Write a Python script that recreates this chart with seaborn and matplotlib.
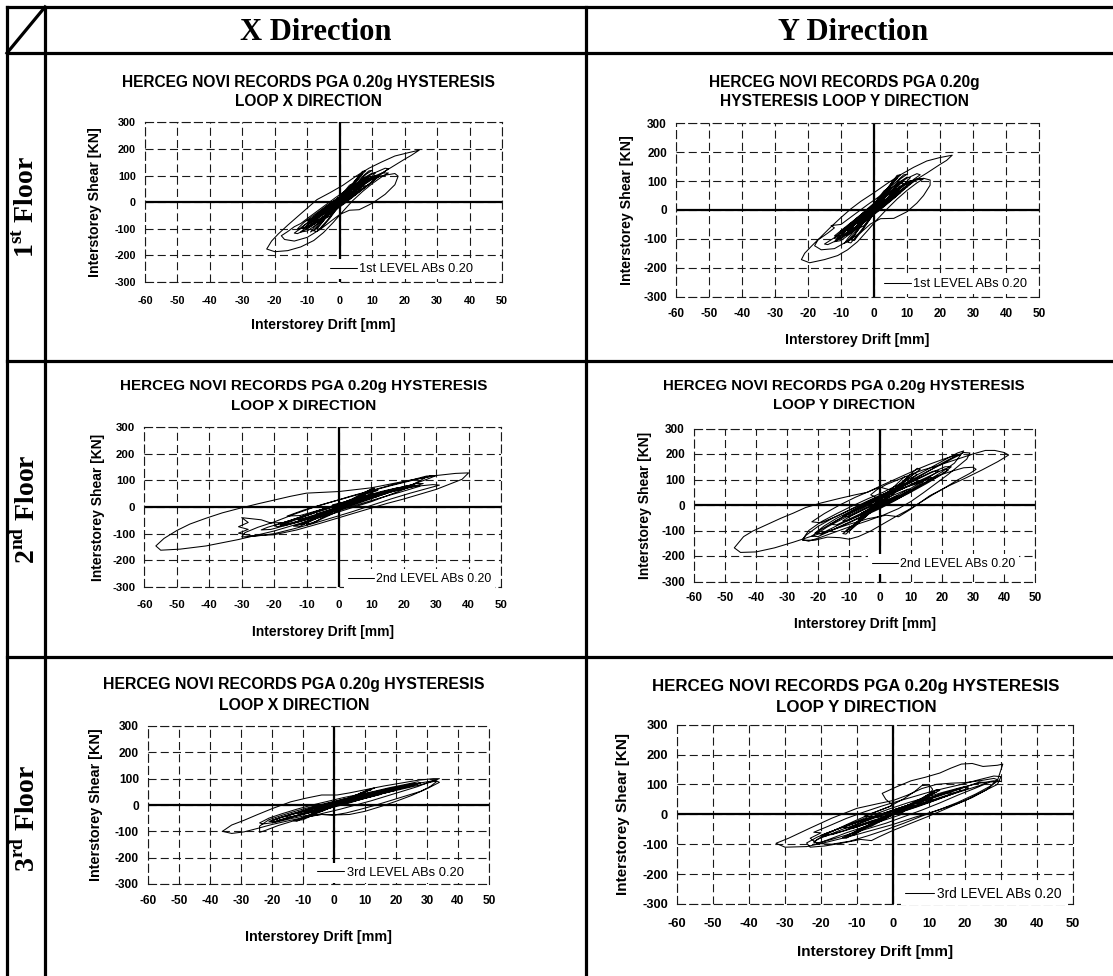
import matplotlib
matplotlib.use("Agg")
import matplotlib.pyplot as plt
from matplotlib.lines import Line2D
import seaborn as sns
import pandas as pd

# ---------------------------------------------------------------- text
COLUMN_HEADERS = ["X Direction", "Y Direction"]
FLOOR_LABELS = [r"$\mathbf{1}^{\mathbf{st}}$ Floor",
                r"$\mathbf{2}^{\mathbf{nd}}$ Floor",
                r"$\mathbf{3}^{\mathbf{rd}}$ Floor"]
TITLES = [
    ("HERCEG NOVI RECORDS PGA 0.20g HYSTERESIS", "LOOP X DIRECTION"),
    ("HERCEG NOVI RECORDS PGA 0.20g", "HYSTERESIS LOOP Y DIRECTION"),
    ("HERCEG NOVI RECORDS PGA 0.20g HYSTERESIS", "LOOP X DIRECTION"),
    ("HERCEG NOVI RECORDS PGA 0.20g HYSTERESIS", "LOOP Y DIRECTION"),
    ("HERCEG NOVI RECORDS PGA 0.20g HYSTERESIS", "LOOP X DIRECTION"),
    ("HERCEG NOVI RECORDS PGA 0.20g HYSTERESIS", "LOOP Y DIRECTION"),
]
SERIES_LABELS = ["1st LEVEL ABs 0.20", "1st LEVEL ABs 0.20",
                 "2nd LEVEL ABs 0.20", "2nd LEVEL ABs 0.20",
                 "3rd LEVEL ABs 0.20", "3rd LEVEL ABs 0.20"]
X_LABEL = "Interstorey Drift [mm]"
Y_LABEL = "Interstorey Shear [KN]"
X_TICKS = [-60, -50, -40, -30, -20, -10, 0, 10, 20, 30, 40, 50]
Y_TICKS = [-300, -200, -100, 0, 100, 200, 300]

# ------------------------------------------- hysteresis traces (drift mm, shear kN)
LOOP_1ST_X = [
    (0, 0), (2, 16), (4, 36), (3, 34), (0, 10), (-3, -20), (-5, -44), (-4, -42), (-1, -16), (2, 12),
    (5, 46), (7, 68), (6, 66), (3, 40), (-1, 4), (-4, -28), (-7, -60), (-9, -84), (-8, -82), (-5, -56),
    (-1, -20), (3, 16), (6, 48), (9, 86), (11, 110), (10, 110), (7, 88), (3, 50), (-1, 12), (-5, -28),
    (-9, -68), (-12, -98), (-14, -116), (-13, -118), (-10, -100), (-6, -68), (-2, -32), (2, 4), (6, 40), (10, 78),
    (13, 108), (15, 126), (14, 128), (11, 112), (7, 86), (3, 54), (-1, 20), (-5, -16), (-9, -52), (-12, -80),
    (-14, -92), (-16, -110), (-18, -126), (-17, -140), (-14, -146), (-10, -132), (-6, -102), (-3, -74), (0, -46), (3, -30),
    (6, -28), (10, -4), (14, 30), (17, 66), (18, 98), (17, 108), (13, 100), (9, 82), (5, 58), (1, 28),
    (-3, -4), (-7, -40), (-11, -76), (-13, -100), (-11, -98), (-7, -72), (-3, -40), (1, -6), (5, 30), (9, 68),
    (12, 98), (11, 100), (8, 80), (4, 50), (0, 16), (-4, -20), (-8, -56), (-10, -70), (-8, -66), (-4, -36),
    (0, -2), (4, 36), (8, 70), (12, 102), (16, 132), (20, 162), (22, 176), (24.5, 196), (21, 186), (17, 174),
    (13, 152), (9, 128), (5, 98), (1, 64), (-3, 36), (-7, 10), (-10, -22), (-13, -54), (-16, -86), (-19, -120),
    (-21, -146), (-22.5, -176), (-20, -186), (-16, -182), (-12, -168), (-8, -144), (-5, -114), (-2, -76), (1, -34), (4, 6),
    (7, 40), (10, 70), (13, 96), (15, 110), (13, 110), (9, 90), (5, 62), (1, 30), (-3, -6), (-7, -44),
    (-10, -78), (-12, -96), (-10, -94), (-6, -62), (-2, -26), (2, 10), (6, 44), (8, 62), (6, 58), (2, 26),
    (-2, -10), (-5, -40), (-3, -34), (0, -4), (2, 14),
    (5, 44), (8, 74), (10, 96), (9, 96), (6, 70), (2, 34), (-2, -4), (-6, -44), (-9, -76), (-11, -96),
    (-10, -98), (-7, -72), (-3, -36), (1, 2), (4, 36), (7, 66), (9, 90), (8, 92), (5, 62), (1, 24),
    (-3, -14), (-7, -52), (-10, -86), (-9, -90), (-5, -56), (-1, -16), (3, 22), (6, 56), (8, 80), (7, 80),
    (4, 50), (0, 12), (-4, -28), (-8, -66), (-11, -100), (-12, -112), (-10, -108), (-6, -74), (-2, -36), (2, 0),
    (6, 38), (10, 76), (12, 96), (11, 98), (7, 64), (3, 28), (-1, -8), (-5, -46), (-8, -74), (-6, -64),
    (-2, -26), (1, 6), (4, 40), (7, 72), (6, 70), (3, 38), (-1, 0), (-4, -30), (-2, -20), (0, 0),
    (3, 50), (6, 95), (8, 118), (7, 116), (4, 70), (1, 30), (-2, -20), (-5, -70), (-7, -100), (-6, -102),
    (-3, -60), (0, -10), (3, 40), (5, 80), (7, 106), (6, 100), (3, 56), (0, 10), (-3, -40), (-6, -84),
    (-8, -108), (-7, -110), (-4, -70), (-1, -26), (2, 24), (5, 66), (8, 104), (10, 120), (9, 118), (5, 76),
    (2, 36), (-2, -10), (-5, -56), (-8, -96), (-9, -112), (-8, -104), (-4, -50), (-1, -4), (2, 40), (4, 70),
    (3, 64), (0, 20), (-3, -30), (-5, -64), (-3, -52), (0, -6), (3, 30), (1, 10),
]

LOOP_1ST_Y = [
    (0, 0), (2, 18), (4, 38), (3, 36), (0, 8), (-3, -24), (-5, -46), (-4, -44), (-1, -14), (2, 16),
    (5, 50), (7, 72), (6, 70), (3, 42), (-1, 2), (-4, -32), (-7, -64), (-9, -88), (-8, -86), (-5, -58),
    (-1, -22), (3, 18), (6, 50), (9, 88), (11, 112), (10, 114), (7, 92), (3, 52), (-1, 14), (-5, -26),
    (-9, -66), (-12, -96), (-15, -118), (-14, -120), (-11, -104), (-7, -72), (-3, -36), (1, 2), (5, 38), (9, 76),
    (12, 106), (14, 122), (13, 126), (10, 110), (6, 82), (2, 50), (-2, 18), (-6, -16), (-10, -50), (-13, -54),
    (-12, -62), (-14, -80), (-17, -104), (-18, -124), (-16, -138), (-12, -134), (-8, -108), (-4, -78), (-1, -48), (2, -30),
    (6, -29), (10, -6), (13, 24), (15, 50), (17, 86), (17, 104), (15, 110), (11, 98), (7, 74), (3, 44),
    (-1, 10), (-5, -26), (-9, -62), (-12, -90), (-10, -90), (-6, -62), (-2, -30), (2, 4), (6, 42), (10, 82),
    (12, 100), (11, 102), (8, 82), (4, 50), (0, 14), (-4, -22), (-8, -58), (-10, -72), (-8, -68), (-4, -36),
    (0, -2), (4, 34), (8, 68), (12, 100), (16, 128), (20, 158), (22, 172), (23.7, 190), (20, 182), (16, 170),
    (12, 148), (8, 122), (4, 92), (0, 60), (-4, 30), (-7, 4), (-10, -26), (-13, -58), (-16, -92), (-19, -126),
    (-21, -150), (-22, -172), (-19.5, -183), (-15, -172), (-11, -158), (-8, -138), (-5, -110), (-2, -72), (1, -32), (4, 4),
    (7, 38), (10, 68), (13, 94), (15, 108), (13, 108), (9, 88), (5, 60), (1, 28), (-3, -8), (-7, -46),
    (-10, -80), (-12, -98), (-10, -96), (-6, -64), (-2, -28), (2, 8), (6, 42), (8, 60), (6, 56), (2, 24),
    (-2, -12), (-5, -42), (-3, -36), (0, -6), (2, 12),
    (5, 46), (8, 78), (10, 98), (9, 100), (6, 72), (2, 32), (-2, -6), (-6, -46), (-9, -78), (-11, -98),
    (-10, -100), (-7, -74), (-3, -38), (1, 0), (4, 34), (7, 68), (9, 92), (8, 94), (5, 64), (1, 26),
    (-3, -12), (-7, -50), (-10, -84), (-9, -88), (-5, -54), (-1, -14), (3, 24), (6, 58), (8, 82), (7, 84),
    (4, 52), (0, 14), (-4, -26), (-8, -64), (-11, -98), (-12, -110), (-10, -106), (-6, -72), (-2, -34), (2, 2),
    (6, 40), (10, 80), (12, 98), (11, 100), (7, 66), (3, 30), (-1, -6), (-5, -44), (-8, -72), (-6, -62),
    (-2, -24), (1, 8), (4, 42), (7, 74), (6, 72), (3, 40), (-1, 2), (-4, -28), (-2, -18), (0, 0),
    (3, 54), (6, 98), (8, 122), (7, 120), (4, 74), (1, 32), (-2, -22), (-5, -72), (-7, -104), (-6, -106),
    (-3, -62), (0, -12), (3, 42), (5, 84), (7, 110), (6, 104), (3, 58), (0, 12), (-3, -42), (-6, -88),
    (-8, -112), (-7, -114), (-4, -72), (-1, -28), (2, 26), (5, 70), (8, 108), (10, 124), (9, 122), (5, 80),
    (2, 38), (-2, -12), (-5, -58), (-8, -100), (-9, -116), (-8, -108), (-4, -52), (-1, -6), (2, 42), (4, 74),
    (3, 66), (0, 22), (-3, -32), (-5, -66), (-3, -54), (0, -8), (3, 32), (1, 12),
]

LOOP_2ND_X = [
    (0, 0), (3, 12), (6, 22), (5, 22), (1, 6), (-3, -10), (-7, -26), (-6, -26), (-2, -10), (3, 8),
    (7, 26), (10, 40), (9, 42), (5, 28), (0, 12), (-5, -8), (-10, -30), (-13, -46), (-12, -48), (-7, -32),
    (-2, -14), (3, 6), (8, 28), (12, 48), (11, 50), (7, 38), (2, 18), (-4, -6), (-10, -32), (-15, -56),
    (-18, -68), (-17, -70), (-12, -54), (-6, -32), (0, -10), (6, 14), (12, 40), (18, 66), (24, 90), (28, 108),
    (30, 118), (27, 116), (22, 100), (16, 82), (10, 62), (4, 42), (-2, 20), (-8, -2), (-14, -28), (-20, -56),
    (-25, -76), (-29, -96), (-30, -112), (-26, -110), (-20, -100), (-14, -82), (-8, -62), (-2, -40), (4, -18), (10, 6),
    (16, 30), (22, 52), (28, 72), (31, 82), (29, 84), (24, 78), (18, 66), (12, 50), (6, 30), (0, 8),
    (-6, -16), (-12, -40), (-17, -58), (-21, -60), (-24, -48), (-27, -44), (-30, -40), (-28, -58), (-31, -74), (-28, -84),
    (-31, -98), (-27, -108), (-20, -104), (-13, -86), (-6, -62), (0, -40), (5, -22), (10, -4), (15, 14), (20, 30),
    (25, 48), (30, 66), (35, 90), (38, 104), (40, 128), (36, 126), (30, 118), (20, 96), (10, 72), (0, 58),
    (-10, 52), (-15, 40), (-20, 26), (-25, 12), (-31, -6), (-36, -22), (-41, -42), (-46, -64), (-50, -88), (-54, -118),
    (-56.5, -146), (-55, -162), (-49, -158), (-41, -146), (-31, -122), (-20, -90), (-10, -54), (0, -18), (10, 20), (20, 66),
    (27, 112), (29, 118), (24, 104), (16, 80), (8, 54), (1, 30), (-5, 10), (-11, -12), (-16, -34), (-12, -32),
    (-5, -8), (2, 14), (9, 36), (15, 54), (21, 70), (26, 88), (24, 88), (18, 70), (11, 48), (4, 26),
    (-2, 8), (0, 2),
    (5, 22), (10, 40), (15, 58), (19, 70), (18, 72), (13, 58), (7, 38), (1, 16), (-5, -8), (-11, -34),
    (-16, -54), (-20, -70), (-19, -74), (-14, -58), (-8, -36), (-2, -14), (4, 10), (10, 34), (16, 56), (22, 76),
    (21, 80), (15, 62), (8, 38), (2, 16), (-4, -6), (-10, -30), (-15, -52), (-18, -66), (-16, -66), (-10, -44),
    (-4, -20), (2, 2), (8, 26), (14, 48), (17, 62), (15, 62), (9, 42), (3, 20), (-3, -2), (-9, -26),
    (-14, -46), (-12, -46), (-6, -24), (0, -4), (6, 18), (12, 40), (11, 44), (5, 24), (-1, 4), (-7, -18),
    (-12, -40), (-22, -76), (-24, -86), (-21, -84), (-13, -58), (-5, -30), (3, -2), (11, 28), (19, 56), (25, 78),
    (23, 80), (16, 60), (8, 36), (0, 10),
    (4, 30), (8, 56), (11, 70), (10, 68), (6, 40), (2, 14), (-3, -14), (-8, -44), (-12, -64), (-11, -66),
    (-7, -40), (-2, -10), (3, 20), (8, 48), (12, 62), (10, 60), (5, 28), (0, -2), (-5, -32), (-10, -58),
    (-14, -72), (-12, -72), (-6, -38), (-1, -8), (4, 24), (9, 54), (12, 66), (11, 60), (7, 30), (3, 4),
    (-2, -26), (-7, -54), (-10, -66), (-8, -60), (-3, -26), (1, 4), (5, 32), (2, 20), (0, 4),
]

LOOP_2ND_Y = [
    (0, 0), (3, 16), (6, 34), (5, 34), (1, 12), (-3, -12), (-6, -32), (-5, -32), (-1, -8), (3, 14),
    (7, 40), (10, 60), (9, 62), (5, 42), (0, 16), (-5, -14), (-9, -40), (-12, -62), (-11, -64), (-7, -44),
    (-2, -18), (3, 10), (8, 42), (13, 76), (17, 104), (16, 108), (12, 88), (7, 62), (2, 34), (-3, 4),
    (-8, -28), (-13, -60), (-17, -86), (-20, -110), (-19, -114), (-15, -96), (-10, -70), (-5, -42), (0, -14), (5, 18),
    (10, 54), (15, 92), (20, 130), (24, 164), (26, 196), (27, 212), (25, 204), (21, 178), (16, 144), (11, 112),
    (6, 80), (1, 50), (-4, 24), (-9, -4), (-14, -34), (-19, -66), (-23, -100), (-25, -136), (-23, -142), (-19, -126),
    (-14, -104), (-9, -82), (-4, -62), (1, -40), (6, -14), (10, 14), (14, 48), (18, 84), (22, 120), (25, 150),
    (28, 180), (29, 204), (27, 206), (24, 190), (20, 164), (15, 128), (10, 92), (5, 62), (0, 38), (-5, 10),
    (-10, -20), (-15, -50), (-20, -84), (-24, -120), (-25, -138), (-21, -138), (-17, -126), (-13, -128), (-10, -134), (-7, -124),
    (-3, -102), (1, -74), (5, -46), (9, -20), (13, 10), (17, 40), (21, 68), (25, 98), (29, 124), (31, 140),
    (30, 148), (27, 146), (23, 132), (19, 116), (15, 98), (11, 80), (7, 66), (3, 60), (0, 70), (-3, 56),
    (-8, 30), (-13, 0), (-18, -34), (-22, -66), (-19, -70), (-14, -44), (-9, -16), (-4, 12), (1, 42), (6, 72),
    (11, 104), (16, 136), (20, 160), (24, 186), (26, 198), (25, 198), (21, 182), (16, 160), (12, 140), (8, 118),
    (4, 96), (0, 74), (-4, 50), (-8, 40), (-13, 26), (-19, 8), (-24, -10), (-28, -32), (-32, -52), (-37, -80),
    (-41, -102), (-44, -124), (-47, -168), (-45, -186), (-40, -184), (-34, -168), (-28, -146), (-22, -122), (-16, -100), (-10, -76),
    (-4, -54), (2, -40), (6, -46), (10, -16), (16, 36), (22, 74), (28, 108), (33, 138), (38, 170), (41.5, 196),
    (40, 206), (37, 214), (34, 214), (30, 200), (26, 184), (22, 168), (18, 152), (14, 138), (10, 120), (6, 100),
    (2, 80), (-1, 60), (-3, 40), (0, 22), (3, 14),
    (8, 44), (13, 76), (18, 108), (22, 136), (21, 142), (16, 114), (10, 80), (4, 46), (-2, 14), (-8, -22),
    (-14, -60), (-19, -96), (-22, -122), (-20, -124), (-15, -96), (-9, -62), (-3, -28), (3, 8), (9, 44), (15, 84),
    (20, 120), (23, 150), (21, 150), (16, 124), (10, 88), (4, 52), (-2, 18), (-8, -16), (-14, -52), (-18, -82),
    (-21, -110), (-19, -112), (-14, -82), (-8, -48), (-2, -14), (4, 22), (10, 60), (14, 90), (12, 92), (7, 62),
    (1, 30), (-5, -4), (-11, -40), (-16, -76), (-14, -78), (-8, -44), (-2, -8), (4, 28), (10, 66), (16, 110),
    (19, 134), (17, 132), (11, 96), (5, 60), (-1, 26), (-7, -10), (-12, -44), (-10, -46), (-4, -12), (2, 20),
    (5, 50), (9, 90), (12, 120), (11, 124), (7, 82), (3, 40), (-1, 0), (-5, -44), (-9, -86), (-12, -112),
    (-11, -114), (-7, -70), (-3, -28), (1, 14), (5, 60), (9, 104), (13, 140), (12, 144), (8, 100), (4, 58),
    (0, 18), (-4, -28), (-8, -72), (-11, -100), (-10, -104), (-6, -60), (-2, -16), (2, 28), (6, 74), (9, 110),
    (8, 112), (4, 66), (0, 24), (-4, -22), (-7, -56), (-5, -50), (-1, -8), (3, 36), (1, 16),
]

LOOP_3RD_X = [
    (0, 0), (3, 10), (6, 20), (5, 20), (1, 6), (-3, -8), (-6, -18), (-5, -18), (-1, -4), (4, 12),
    (8, 26), (11, 36), (10, 38), (6, 26), (1, 12), (-4, -4), (-8, -18), (-12, -32), (-11, -34), (-7, -22),
    (-2, -8), (4, 10), (9, 28), (14, 44), (18, 56), (17, 60), (13, 50), (8, 36), (3, 22), (-2, 6),
    (-7, -10), (-12, -28), (-17, -46), (-20, -60), (-19, -62), (-15, -50), (-10, -36), (-5, -22), (0, -8), (5, 8),
    (10, 26), (15, 42), (20, 58), (25, 72), (28, 84), (27, 88), (23, 78), (18, 66), (13, 52), (8, 40),
    (3, 28), (-2, 14), (-7, 0), (-12, -16), (-17, -34), (-21, -50), (-24, -68), (-23, -72), (-19, -66), (-14, -52),
    (-9, -40), (-4, -36), (0, -38), (4, -30), (8, -18), (13, -2), (18, 16), (23, 34), (28, 52), (31, 70),
    (33, 88), (32, 92), (28, 84), (23, 72), (18, 60), (13, 46), (8, 34), (3, 22), (-2, 8), (-7, -6),
    (-12, -22), (-17, -40), (-21, -56), (-24, -80), (-24, -104), (-22, -96), (-18, -78), (-13, -60), (-8, -44), (-3, -30),
    (2, -16), (7, 0), (12, 16), (17, 34), (22, 52), (27, 70), (31, 88), (34, 100), (32, 100), (27, 94),
    (22, 84), (16, 72), (10, 58), (5, 46), (1, 38), (-4, 38), (-9, 26), (-14, 12), (-20, -14), (-25, -38),
    (-29, -58), (-33, -76), (-36, -100), (-33, -108), (-29, -102), (-25, -90), (-20, -74), (-14, -58), (-9, -46), (-4, -36),
    (0, -38), (5, -36), (10, -24), (15, -6), (20, 14), (25, 36), (30, 62), (34, 86), (33, 92), (29, 80),
    (24, 66), (18, 50), (12, 34), (6, 18), (0, 4), (-5, -10), (-10, -26), (-8, -24), (-3, -10), (2, 4),
    (7, 20), (12, 36), (17, 52), (22, 66), (21, 70), (16, 56), (10, 38), (4, 20), (-2, 2), (-8, -16),
    (-14, -36), (-19, -54), (-18, -58), (-13, -42), (-7, -24), (-1, -6), (5, 12), (11, 32), (17, 50), (23, 68),
    (27, 80), (25, 80), (19, 64), (12, 44), (6, 26), (0, 8), (-6, -10), (-12, -30), (-17, -48), (-21, -62),
    (-19, -64), (-13, -44), (-7, -26), (-1, -8), (5, 10), (11, 28), (15, 40), (13, 42), (7, 26), (1, 10),
    (-5, -8), (-11, -28), (-16, -44), (-14, -46), (-8, -28), (-2, -10), (4, 8), (10, 26), (16, 44), (20, 56),
    (18, 58), (12, 40), (6, 22), (0, 4),
    (2, 10), (5, 28), (9, 46), (12, 58), (11, 58), (7, 36), (3, 16), (-2, -6), (-6, -28), (-10, -48),
    (-13, -60), (-12, -62), (-8, -38), (-3, -16), (1, 4), (6, 30), (10, 50), (13, 64), (12, 62), (8, 40),
    (4, 20), (0, -2), (-5, -26), (-9, -46), (-12, -58), (-10, -56), (-6, -34), (-1, -10), (3, 14), (7, 36),
    (10, 50), (9, 48), (5, 26), (1, 6), (-3, -14), (-6, -30), (-4, -24), (0, -4),
]

LOOP_3RD_Y = [
    (0, 0), (3, 14), (6, 28), (5, 28), (1, 8), (-3, -12), (-6, -26), (-5, -26), (-1, -6), (4, 16),
    (8, 36), (11, 52), (10, 54), (6, 38), (1, 18), (-4, -4), (-8, -24), (-12, -44), (-11, -46), (-7, -30),
    (-2, -10), (3, 12), (8, 40), (10, 60), (11, 84), (10, 98), (8, 96), (6, 76), (3, 52), (-1, 26),
    (-6, 2), (-11, -24), (-16, -52), (-20, -76), (-22, -92), (-21, -96), (-17, -84), (-12, -66), (-7, -48), (-2, -30),
    (3, -8), (8, 14), (13, 38), (18, 64), (23, 88), (27, 108), (30, 110), (28, 112), (24, 104), (19, 90),
    (14, 74), (9, 56), (4, 38), (-1, 18), (-6, -4), (-11, -28), (-16, -52), (-21, -76), (-24, -96), (-23, -110),
    (-19, -106), (-14, -96), (-9, -84), (-6, -88), (-4, -76), (0, -54), (5, -30), (10, -6), (15, 20), (20, 46),
    (25, 76), (29, 100), (30, 126), (28, 128), (24, 116), (19, 100), (14, 86), (10, 74), (6, 60), (2, 46),
    (-3, 28), (-8, 8), (-13, -14), (-18, -40), (-22, -60), (-20, -62), (-23, -80), (-21, -98), (-17, -100), (-12, -90),
    (-7, -72), (-2, -52), (3, -30), (8, -6), (13, 16), (18, 40), (23, 68), (27, 94), (29, 116), (28, 120),
    (24, 112), (20, 106), (16, 104), (12, 100), (8, 86), (4, 64), (0, 46), (-4, 36), (-10, 20), (-17, -13),
    (-23, -46), (-29, -80), (-32.5, -97), (-30, -110), (-24, -108), (-18, -92), (-12, -74), (-6, -54), (0, -34), (6, -10),
    (12, 12), (18, 36), (22, 56), (26, 82), (29, 112), (30.5, 168), (29, 164), (25, 160), (22, 170), (19, 168),
    (16, 154), (13, 138), (9, 124), (5, 112), (1, 92), (-3, 70), (-2, 50), (0, 30), (-4, 12), (-8, -6),
    (-4, -10), (0, 2),
    (5, 22), (10, 44), (15, 64), (19, 80), (18, 84), (13, 66), (7, 42), (1, 18), (-5, -6), (-11, -30),
    (-16, -52), (-20, -70), (-19, -74), (-14, -56), (-8, -32), (-2, -8), (4, 16), (10, 40), (16, 66), (21, 88),
    (20, 92), (14, 70), (8, 46), (2, 22), (-4, -2), (-10, -26), (-15, -48), (-19, -66), (-17, -68), (-11, -46),
    (-5, -22), (1, 2), (7, 26), (13, 52), (17, 70), (15, 72), (9, 48), (3, 24), (-3, 0), (-9, -24),
    (-14, -44), (-12, -46), (-6, -22), (0, 0), (6, 24), (12, 50), (24, 96), (26, 106), (24, 108), (18, 82),
    (10, 50), (2, 18), (-6, -16), (-14, -50), (-21, -84), (-22, -96), (-20, -94), (-13, -62), (-5, -30), (2, -2),
    (5, 32), (9, 56), (12, 74), (11, 74), (7, 46), (3, 20), (-2, -8), (-7, -38), (-11, -62), (-14, -78),
    (-13, -80), (-9, -54), (-4, -24), (1, 6), (6, 38), (10, 62), (13, 80), (12, 82), (8, 54), (3, 24),
    (-2, -6), (-7, -36), (-11, -60), (-13, -72), (-11, -70), (-7, -42), (-2, -12), (3, 18), (8, 50), (11, 68),
    (10, 66), (6, 38), (1, 8), (-4, -22), (-8, -46), (-6, -40), (-1, -8), (2, 6),
]

LOOPS = [LOOP_1ST_X, LOOP_1ST_Y, LOOP_2ND_X, LOOP_2ND_Y, LOOP_3RD_X, LOOP_3RD_Y]

# ---------------------------------------------------------------- layout (pixels)
W, H = 1113, 976
# plot box (left, top, right, bottom), title centre x / line y's, font sizes,
# y-label x, legend line start x / centre y
LAYOUT = [
    dict(box=(145, 122.5, 502, 282), title=(308, 82, 102), tfs=11.2, ylx=95, lfs=10.2,
         xly=325, tick=7.8, tick_off=20, leg=(330, 269), legfs=9.2),
    dict(box=(676, 123.5, 1039, 296.5), title=(844, 82, 102), tfs=11.2, ylx=627, lfs=10.2,
         xly=340, tick=8.5, tick_off=18.5, leg=(884, 284), legfs=9.2),
    dict(box=(144.5, 427, 501, 587), title=(304, 386, 406), tfs=11.0, ylx=98, lfs=10.0,
         xly=632, tick=8.2, tick_off=19, leg=(348, 579), legfs=8.9),
    dict(box=(694, 428.5, 1035, 581.5), title=(844, 386, 405), tfs=10.8, ylx=645, lfs=10.0,
         xly=624, tick=8.5, tick_off=17.5, leg=(872, 564), legfs=8.9),
    dict(box=(148, 726, 489, 884), title=(294, 685, 706), tfs=11.4, ylx=96, lfs=10.4,
         xly=937, tick=8.6, tick_off=18, leg=(317, 873), legfs=9.3),
    dict(box=(677, 724.6, 1073, 904), title=(856, 686, 708), tfs=12.2, ylx=623, lfs=11.0,
         xly=952, tick=9.3, tick_off=21, leg=(905, 894), legfs=9.9),
]

sns.set_theme(style="white")
plt.rcParams["font.family"] = ["Liberation Sans", "DejaVu Sans"]
plt.rcParams["text.color"] = "black"
plt.rcParams["axes.labelcolor"] = "black"
plt.rcParams["xtick.color"] = "black"
plt.rcParams["ytick.color"] = "black"
plt.rcParams["axes.unicode_minus"] = False
plt.rcParams["lines.scale_dashes"] = False
plt.rcParams["mathtext.fontset"] = "custom"
plt.rcParams["mathtext.rm"] = "Liberation Serif:bold"
plt.rcParams["mathtext.bf"] = "Liberation Serif:bold"

fig = plt.figure(figsize=(W / 100, H / 100), dpi=100)
fig.patch.set_facecolor("white")


def fx(x):
    return x / W


def fy(y):
    return 1 - y / H


def px2pt(p):
    return p * 0.72


DASH = (0, (5.8, 3.0))

# ---------------------------------------------------------------- table frame
TABLE_LW = 2.3
for (x0, y0, x1, y1) in [
    (7, 7, W, 7), (7, 53, W, 53), (7, 361, W, 361), (7, 657, W, 657),
    (7, 7, 7, H), (45, 7, 45, H), (586, 7, 586, H), (7, 53, 45, 7),
]:
    fig.add_artist(Line2D([fx(x0), fx(x1)], [fy(y0), fy(y1)], transform=fig.transFigure,
                          color="black", lw=TABLE_LW, solid_capstyle="projecting"))

for text, cx in zip(COLUMN_HEADERS, [316, 853]):
    fig.text(fx(cx), fy(33), text, ha="center", va="center", fontsize=22,
             family="Liberation Serif", weight="bold", color="black")

for text, cy in zip(FLOOR_LABELS, [207, 509, 818]):
    fig.text(fx(27), fy(cy), text, ha="center", va="center", rotation=90, fontsize=20,
             family="Liberation Serif", weight="bold", color="black")

# ---------------------------------------------------------------- hysteresis panels
for pts, lay, (t1, t2), series in zip(LOOPS, LAYOUT, TITLES, SERIES_LABELS):
    l, t, r, b = lay["box"]
    ax = fig.add_axes([fx(l), fy(b), (r - l) / W, (b - t) / H])
    df = pd.DataFrame(pts, columns=["drift", "shear"])

    ax.set_xlim(-60, 50)
    ax.set_ylim(-300, 300)
    ax.set_xticks(X_TICKS)
    ax.set_yticks(Y_TICKS)
    ax.set_xticklabels([str(v) for v in X_TICKS])
    ax.set_yticklabels([str(v) for v in Y_TICKS])
    ax.grid(True, color="#1a1a1a", lw=0.8, linestyle=DASH, zorder=0)
    ax.set_axisbelow(True)
    for sp in ax.spines.values():
        sp.set_visible(True)
        sp.set_linestyle(DASH)
        sp.set_linewidth(0.8)
        sp.set_color("#1a1a1a")

    ax.axhline(0, color="black", lw=1.6, zorder=2)
    ax.axvline(0, color="black", lw=1.6, zorder=2)

    sns.lineplot(data=df, x="drift", y="shear", sort=False, estimator=None,
                 color="black", lw=0.75, ax=ax, label=series, zorder=3)

    fs_px = lay["tick"] / 0.72
    ax.tick_params(axis="both", length=0, labelsize=lay["tick"], labelcolor="black")
    ax.tick_params(axis="x", pad=px2pt(lay["tick_off"] - 0.57 * fs_px))
    ax.tick_params(axis="y", pad=px2pt(9))
    for lbl in ax.get_xticklabels() + ax.get_yticklabels():
        lbl.set_fontweight("bold")
    ax.set_xlabel("")
    ax.set_ylabel("")

    # legend: white box without frame, hides the lower end of the zero axis
    lx, ly = lay["leg"]
    leg_px = lay["legfs"] / 0.72
    bpad = 0.3
    handles, labels = ax.get_legend_handles_labels()
    leg = ax.legend(handles, labels, loc="center left",
                    bbox_to_anchor=(fx(lx - bpad * leg_px), fy(ly)), bbox_transform=fig.transFigure,
                    frameon=True, facecolor="white", edgecolor="none", framealpha=1, fancybox=False,
                    handlelength=2.1, handletextpad=0.2, borderpad=bpad, borderaxespad=0,
                    prop={"size": lay["legfs"], "family": "Liberation Sans"})
    for txt in leg.get_texts():
        txt.set_color("black")

    tx, ty1, ty2 = lay["title"]
    for line, ty in ((t1, ty1), (t2, ty2)):
        fig.text(fx(tx), fy(ty), line, ha="center", va="center", fontsize=lay["tfs"],
                 weight="bold", color="black")
    fig.text(fx(lay["ylx"]), fy((t + b) / 2), Y_LABEL, rotation=90, ha="center",
             va="center", fontsize=lay["lfs"], weight="bold", color="black")
    fig.text(fx((l + r) / 2), fy(lay["xly"]), X_LABEL, ha="center", va="center",
             fontsize=lay["lfs"] if lay["lfs"] < 10.5 else 11.0, weight="bold", color="black")

fig.savefig("out.png", dpi=100, facecolor="white")
